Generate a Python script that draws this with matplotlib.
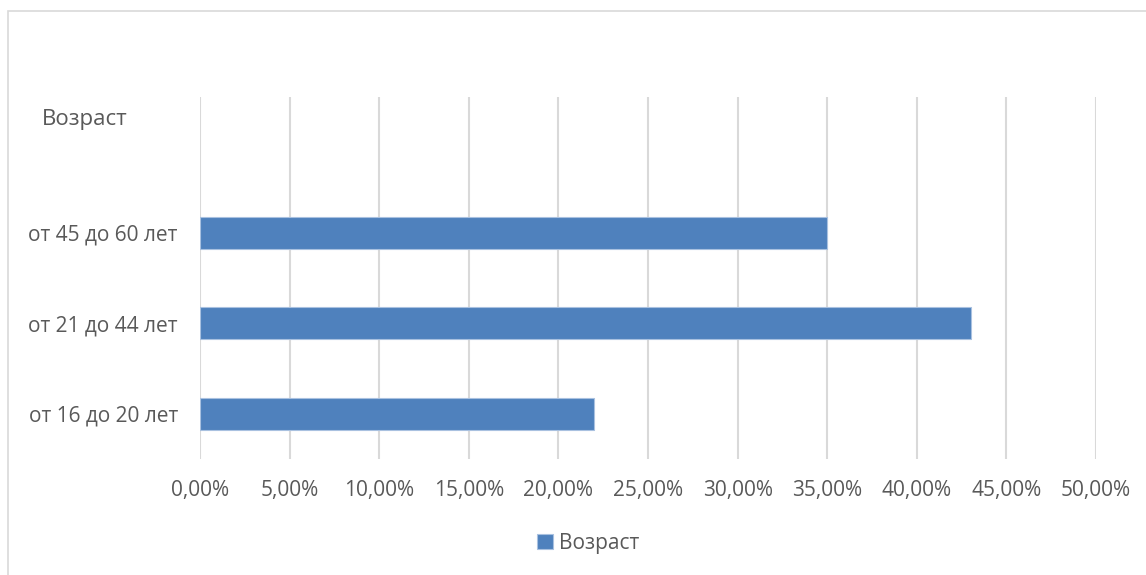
import matplotlib
matplotlib.use("Agg")
import matplotlib.pyplot as plt
import matplotlib.transforms as mtransforms
from matplotlib.patches import Rectangle
from matplotlib.ticker import FuncFormatter, MultipleLocator

categories = ["от 16 до 20 лет", "от 21 до 44 лет", "от 45 до 60 лет", "Возраст"]
values = [0.22, 0.43, 0.35, None]
series_name = "Возраст"

plt.rcParams['font.family'] = ['Open Sans', 'DejaVu Sans']
text_color = "#595959"
grid_color = "#d9d9d9"
bar_color = "#4f81bd"

fig = plt.figure(figsize=(11.46, 5.75), dpi=100)
ax = fig.add_axes([200/1146, 1-459/575, (1096-200)/1146, (459-97)/575])

# chart border
fig.patches.append(Rectangle((7.5/1146, -0.1), 1.2, 1 - 11/575 + 0.1,
                             transform=fig.transFigure, fill=False,
                             edgecolor=grid_color, linewidth=1.2))

ys = list(range(len(categories)))
plot_vals = [v if v is not None else 0 for v in values]
bars = ax.barh(ys, plot_vals, height=0.35, color=bar_color,
               edgecolor="#a9c1e0", linewidth=0.8, label=series_name, zorder=3)
for b, v in zip(bars, values):
    if v is None:
        b.set_visible(False)

ax.set_xlim(0, 0.5)
ax.set_ylim(-0.5, len(categories) - 0.5)
ax.xaxis.set_major_locator(MultipleLocator(0.05))
ax.xaxis.set_major_formatter(FuncFormatter(lambda x, p: f"{x*100:.2f}%".replace(".", ",")))
ax.grid(axis="x", color=grid_color, linewidth=1.5, zorder=0)
ax.set_axisbelow(True)
for s in ax.spines.values():
    s.set_visible(False)
ax.set_yticks(ys)
ax.set_yticklabels(categories)
ax.tick_params(axis="both", length=0, labelsize=15, colors=text_color)
ax.tick_params(axis="y", pad=16)
ax.tick_params(axis="x", pad=15)

# shift header-like category label
lbl = ax.get_yticklabels()[-1]
lbl.set_fontsize(16)
lbl.set_transform(lbl.get_transform() + mtransforms.ScaledTranslation(-50/100, 25/100, fig.dpi_scale_trans))

leg = fig.legend(handles=[bars], labels=[series_name], loc="center",
                 bbox_to_anchor=(588/1146, 1-543/575), frameon=False,
                 handlelength=0.75, handleheight=0.75, handletextpad=0.3,
                 fontsize=15)
for t in leg.get_texts():
    t.set_color(text_color)

fig.savefig("out.png", dpi=100, facecolor="white")
